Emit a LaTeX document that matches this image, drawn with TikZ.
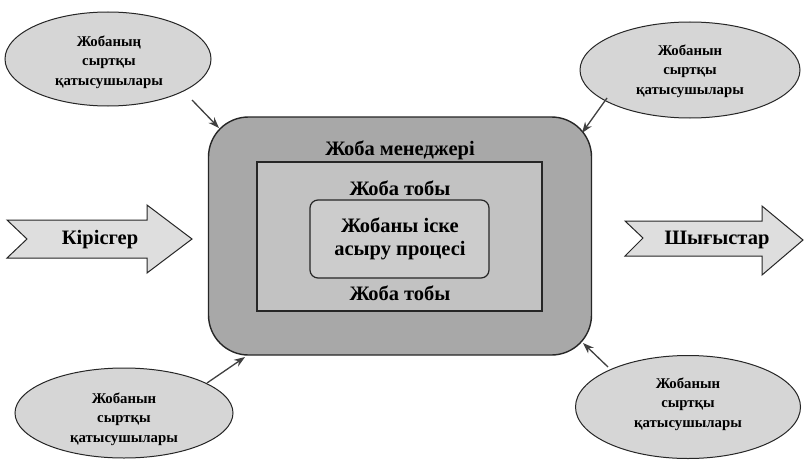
\documentclass[tikz,border=0pt]{standalone}
\usepackage{fontspec}
\setmainfont{Liberation Serif}
\usetikzlibrary{arrows.meta,shapes.geometric}
\begin{document}
\begin{tikzpicture}[x=1pt,y=-1pt,
  ell/.style={ellipse, draw=black!85, line width=1pt, fill=black!16, inner sep=0pt},
  elltext/.style={font=\bfseries\fontsize{14.8}{19.5}\selectfont, align=center, inner sep=0pt},
  maintext/.style={font=\bfseries\fontsize{20.5}{23}\selectfont, align=center, inner sep=0pt},
  arrowtext/.style={font=\bfseries\fontsize{20.5}{22}\selectfont, inner sep=0pt},
  bigarrow/.style={draw=black!85, line width=1pt, fill=black!13, line join=miter},
  conn/.style={draw=black!75, line width=1.3pt, -{Stealth[length=11pt,width=8pt]}}
]
\useasboundingbox (0,0) rectangle (805,460);
\fill[white] (0,0) rectangle (805,460);

% main box
\node[draw=black!85, line width=1.4pt, fill=black!34, rounded corners=40pt,
      minimum width=383pt, minimum height=238pt, inner sep=0pt] (mgr) at (400,236) {};
\node[draw=black!85, line width=2pt, fill=black!24,
      minimum width=285pt, minimum height=149pt, inner sep=0pt] (team) at (399.5,236.5) {};
\node[draw=black!85, line width=1.2pt, fill=black!20, rounded corners=8pt,
      minimum width=179pt, minimum height=78pt, inner sep=0pt] (proc) at (399.5,239) {};

\node[maintext] (tmgr) at (400,150) {Жоба менеджері};
\node[maintext] (tteam1) at (400,188) {Жоба тобы};
\node[maintext] (tproc) at (400,239) {Жобаны іске\\асыру процесі};
\node[maintext] (tteam2) at (400,293) {Жоба тобы};

% ellipses
\node[ell, minimum width=206pt, minimum height=94pt] (e1) at (108,59) {};
\node[elltext] (t1) at (109,62) {Жобаның\\сыртқы\\қатысушылары};
\node[ell, minimum width=220pt, minimum height=96pt] (e2) at (690,70) {};
\node[elltext] (t2) at (690,71) {Жобанын\\сыртқы\\қатысушылары};
\node[ell, minimum width=218pt, minimum height=90pt] (e3) at (124,413) {};
\node[elltext] (t3) at (124,419) {Жобанын\\сыртқы\\қатысушылары};
\node[ell, minimum width=225pt, minimum height=103pt] (e4) at (688,407) {};
\node[elltext] (t4) at (688,404) {Жобанын\\сыртқы\\қатысушылары};

% connectors
\coordinate (c1s) at (192,100); \coordinate (c1e) at (219,128);
\coordinate (c2s) at (607,98);  \coordinate (c2e) at (582,133);
\coordinate (c3s) at (207,383); \coordinate (c3e) at (245,357);
\coordinate (c4s) at (608,367); \coordinate (c4e) at (583,343);
\draw[conn] (c1s) -- (c1e);
\draw[conn] (c2s) -- (c2e);
\draw[conn] (c3s) -- (c3e);
\draw[conn] (c4s) -- (c4e);

% input / output arrows
\path[bigarrow] (7,220) -- (147,220) -- (147,205) -- (192,239) -- (147,273)
  -- (147,258) -- (7,258) -- (27,239) -- cycle;
\node[arrowtext] (tin) at (100,240) {Кірісгер};
\path[bigarrow] (625,221) -- (762,221) -- (762,206) -- (803,240) -- (762,275)
  -- (762,256) -- (625,256) -- (643,238) -- cycle;
\node[arrowtext] (tout) at (717,240) {Шығыстар};
\end{tikzpicture}
\end{document}
